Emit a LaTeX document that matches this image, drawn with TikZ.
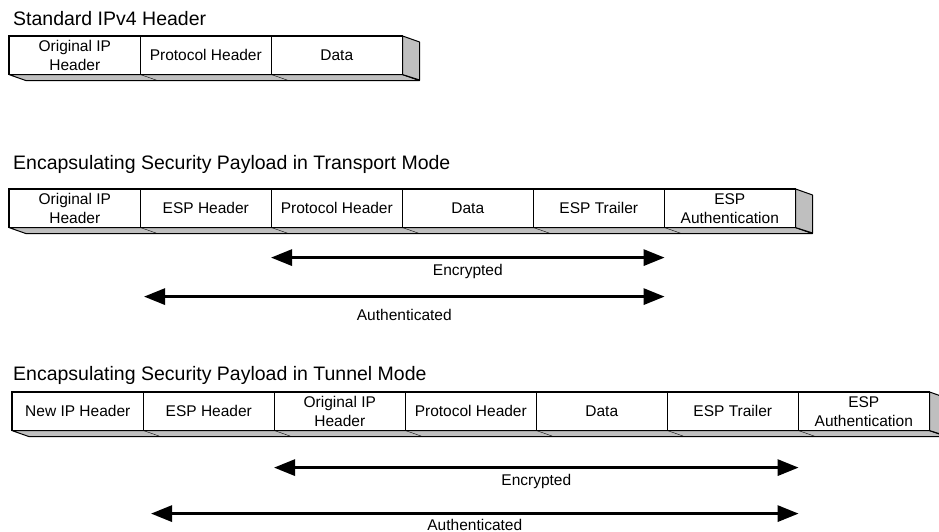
\documentclass[tikz,border=0pt]{standalone}
\usepackage{fontspec}
\setmainfont{Liberation Sans}
\usetikzlibrary{arrows.meta,positioning}
\newcommand{\pktrow}[5]{%
  \foreach \txt [count=\k] in {#5}
    \node[field] (#1\k) at ({#2+131*(\k-1)},#3) {\txt};
  \filldraw[slab] (#1#4.south east) -- (#11.south west) -- ++(17,6)
    -- ([xshift=17pt,yshift=-6pt]#1#4.south east) -- cycle;
  \filldraw[slab] (#1#4.north east) -- ++(17,6) -- ++(0,38)
    -- (#1#4.south east) -- cycle;
  \foreach \k in {1,...,#4}
    \draw[thin] (#1\k.south east) -- ++(17,6);
  \draw[line width=1.1pt] (#11.north west) rectangle (#1#4.south east);
}

\begin{document}
\begin{tikzpicture}[x=1pt,y=-1pt,
  field/.style={draw, fill=white, line width=0.6pt, anchor=north west,
    minimum width=131pt, minimum height=38pt, inner sep=0pt, align=center,
    font=\fontsize{15.5}{19}\selectfont},
  slab/.style={fill=black!25, draw=black, line width=1pt, line join=round},
  span/.style={line width=3pt, {Triangle[length=21pt,width=16pt]}-{Triangle[length=21pt,width=16pt]}},
  heading/.style={anchor=base west, inner sep=0pt, font=\fontsize{19.5}{23}\selectfont},
  lbl/.style={inner sep=0pt, font=\fontsize{15.5}{19}\selectfont}]
  \useasboundingbox (0,0) rectangle (939,532);

  \node[heading] (h1) at (13,25.5) {Standard IPv4 Header};
  \pktrow{s}{9}{36}{3}{{Original IP\\Header},Protocol Header,Data}

  \node[heading] (h2) at (13,169.5) {Encapsulating Security Payload in Transport Mode};
  \pktrow{t}{9}{189}{6}{{Original IP\\Header},ESP Header,Protocol Header,Data,ESP Trailer,{ESP\\Authentication}}
  \draw[span] ([yshift=-30pt]t3.south west) -- ([yshift=-30pt]t5.south east)
    node[lbl, midway, below=5pt] {Encrypted};
  \draw[span] ([xshift=4pt,yshift=-69pt]t2.south west) -- ([yshift=-69pt]t5.south east)
    node[lbl, midway, below=11pt] {Authenticated};

  \node[heading] (h3) at (13,380) {Encapsulating Security Payload in Tunnel Mode};
  \pktrow{u}{12}{392}{7}{New IP Header,ESP Header,{Original IP\\Header},Protocol Header,Data,ESP Trailer,{ESP\\Authentication}}
  \draw[span] ([yshift=-37pt]u3.south west) -- ([yshift=-37pt]u6.south east)
    node[lbl, midway, below=5pt] {Encrypted};
  \draw[span] ([xshift=8pt,yshift=-83pt]u2.south west) -- ([yshift=-83pt]u6.south east)
    node[lbl, midway, below=4pt] {Authenticated};
\end{tikzpicture}
\end{document}
